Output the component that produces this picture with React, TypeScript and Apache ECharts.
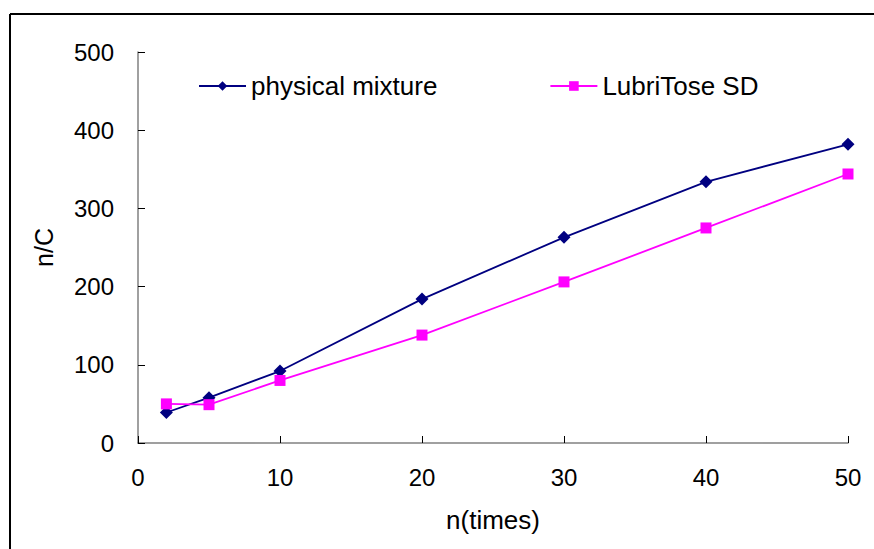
import React, { useEffect, useRef } from "react";
import * as echarts from "echarts";

const xValues = [2, 5, 10, 20, 30, 40, 50];
const physicalMixture = [39, 58, 92, 184, 263, 334, 382];
const lubriTose = [50, 49, 80, 138, 206, 275, 344];
const seriesNames = ["physical mixture", "LubriTose SD"];
const xAxisTitle = "n(times)";
const yAxisTitle = "n/C";

const FONT = "'Liberation Sans', Arial, sans-serif";

export default function App() {
  const ref = useRef<HTMLDivElement>(null);
  useEffect(() => {
    if (!ref.current) return;
    const chart = echarts.init(ref.current, undefined, { renderer: "svg" });
    chart.setOption({
      animation: false,
      backgroundColor: "#ffffff",
      textStyle: { fontFamily: FONT },
      grid: { left: 138, right: 26, top: 52, bottom: 106, containLabel: false },
      legend: {
        left: 193,
        top: 68,
        itemWidth: 47,
        itemHeight: 12,
        itemGap: 112,
        textStyle: { fontSize: 26, color: "#000", fontFamily: FONT },
        data: seriesNames,
      },
      xAxis: {
        type: "value",
        min: 0,
        max: 50,
        interval: 10,
        name: xAxisTitle,
        nameLocation: "middle",
        nameGap: 64,
        nameTextStyle: { fontSize: 26, color: "#000", fontFamily: FONT },
        axisLine: { lineStyle: { color: "#808080", width: 1.5 } },
        axisTick: { inside: true, length: 7, lineStyle: { color: "#000" } },
        axisLabel: { fontSize: 24, color: "#000", margin: 22, fontFamily: FONT },
        splitLine: { show: false },
      },
      yAxis: {
        type: "value",
        min: 0,
        max: 500,
        interval: 100,
        name: yAxisTitle,
        nameLocation: "middle",
        nameGap: 82,
        nameRotate: 90,
        nameTextStyle: { fontSize: 25, color: "#000", fontFamily: FONT },
        axisLine: { show: true, lineStyle: { color: "#808080", width: 1.5 } },
        axisTick: { show: true, inside: true, length: 7, lineStyle: { color: "#000" } },
        axisLabel: { fontSize: 24, color: "#000", margin: 24, fontFamily: FONT },
        splitLine: { show: false },
      },
      series: [
        {
          name: seriesNames[0],
          type: "line",
          data: xValues.map((x, i) => [x, physicalMixture[i]]),
          symbol: "diamond",
          symbolSize: 13,
          lineStyle: { color: "#000080", width: 1.8 },
          itemStyle: { color: "#000080" },
        },
        {
          name: seriesNames[1],
          type: "line",
          data: xValues.map((x, i) => [x, lubriTose[i]]),
          symbol: "rect",
          symbolSize: 11,
          lineStyle: { color: "#ff00ff", width: 1.8 },
          itemStyle: { color: "#ff00ff" },
        },
      ],
      graphic: [
        { type: "line", shape: { x1: 10, y1: 14, x2: 874, y2: 14 }, style: { stroke: "#000", lineWidth: 2 } },
        { type: "line", shape: { x1: 10, y1: 14, x2: 10, y2: 549 }, style: { stroke: "#000", lineWidth: 2 } },
      ],
    });
    return () => chart.dispose();
  }, []);
  return (
    <div
      ref={ref}
      style={{ position: "absolute", left: 0, top: 0, width: 874, height: 549 }}
    />
  );
}
